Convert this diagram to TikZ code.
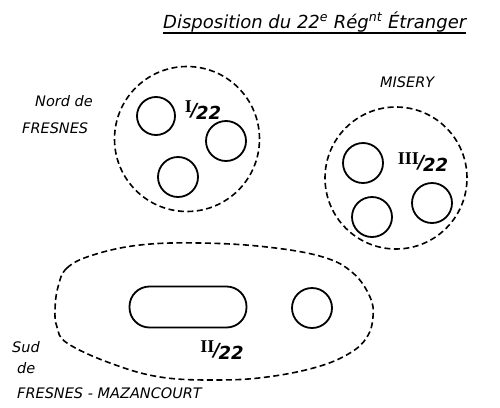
\documentclass[tikz,border=0pt]{standalone}
\usepackage{fontspec}
\setmainfont{DejaVu Sans}
\newfontfamily\romfont{Liberation Serif}
\begin{document}
\begin{tikzpicture}[x=1pt,y=-1pt,
  zone/.style={draw, dash pattern=on 6pt off 3.5pt, line width=1.6pt},
  unitc/.style={draw, circle, line width=1.8pt, minimum size=40pt, inner sep=0pt},
  place/.style={font=\itshape\fontsize{14.5}{16}\selectfont, inner sep=0pt},
  frac/.style={font=\itshape\bfseries\fontsize{18}{19}\selectfont, inner sep=0pt},
  romnum/.style={},
  titlestyle/.style={font=\itshape\fontsize{18}{22}\selectfont, inner sep=0pt, anchor=base west}]
\newcommand{\romn}[1]{\raisebox{4pt}{\romfont\upshape\bfseries\fontsize{18}{19}\selectfont #1}}
\useasboundingbox (0,0) rectangle (500,407);
% title
\node[titlestyle] (title) at (163,28) {Disposition du 22\textsuperscript{e} Rég\textsuperscript{nt} Étranger};
\draw[line width=1.3pt] ([yshift=-5pt]title.base west) -- ([yshift=-5pt]title.base east);
% group I
\node[zone, circle, minimum size=145pt, inner sep=0pt] (gI) at (187,139) {};
\node[unitc, minimum size=38pt] (uI1) at (156,116) {};
\node[unitc] (uI2) at (226,141) {};
\node[unitc] (uI3) at (178,177) {};
\node[frac] (tI) at (203,110) {\romn{I}\kern-1pt/\kern-1.5pt\raisebox{-3pt}{22}};
\node[place, anchor=west] (nord) at (35,101) {Nord de};
\node[place, anchor=west] (fresnes) at (22,128) {FRESNES};
% group III
\node[zone, circle, minimum size=142pt, inner sep=0pt] (gIII) at (396,178) {};
\node[unitc] (uIII1) at (363,163) {};
\node[unitc] (uIII2) at (372,217) {};
\node[unitc] (uIII3) at (432,203) {};
\node[frac] (tIII) at (423,162) {\romn{III}\kern-1pt/\kern-1.5pt\raisebox{-3pt}{22}};
\node[place, anchor=west] (misery) at (380,82) {MISERY};
% group II
\draw[zone] plot[smooth cycle, tension=0.65] coordinates {
  (58,287) (67,268) (93,255) (140,245) (200,243) (267,247) (323,257) (353,273)
  (370,297) (373,317) (367,337) (350,353) (317,367) (267,377) (217,380)
  (160,377) (110,363) (67,343) (57,327) (55,310)};
\node[draw, line width=1.8pt, rectangle, rounded corners=20pt, minimum width=117pt, minimum height=41pt, inner sep=0pt] (uII1) at (188,307) {};
\node[unitc] (uII2) at (312,308) {};
\node[frac] (tII) at (222,350) {\romn{II}\kern-1pt/\kern-1.5pt\raisebox{-3pt}{22}};
\node[place, anchor=west] (sud) at (12,347) {Sud};
\node[place, anchor=west] (de) at (17,368) {de};
\node[place, anchor=west] (fm) at (17,393) {FRESNES - MAZANCOURT};
\end{tikzpicture}
\end{document}
